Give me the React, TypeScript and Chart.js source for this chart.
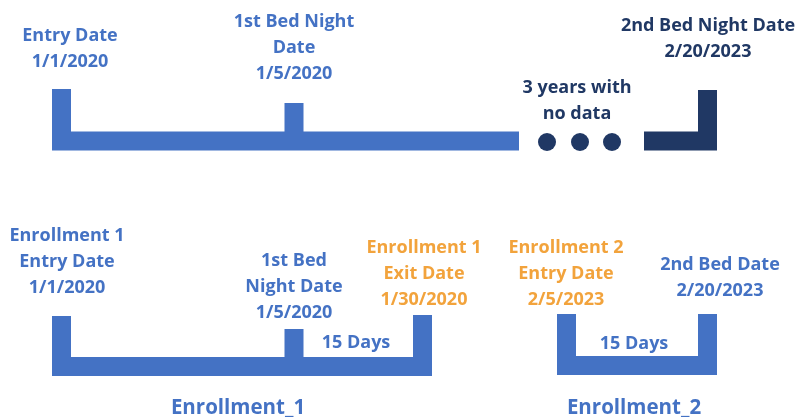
import React, { useEffect, useRef } from "react";
import { Chart, registerables } from "chart.js";

Chart.register(...registerables);

// Timeline geometry in diagram units (x: left→right, y: top→bottom)
const topBracketX = [61.5, 61.5, 519];
const topBracketY = [89, 141, 141];
const topBedTickX = [294, 294];
const topBedTickY = [103, 141];
const topSecondX = [644, 707.5, 707.5];
const topSecondY = [141, 141, 90];
const gapDotsX = [547, 580, 612];
const gapDotsY = [142, 142, 142];

const enr1BracketX = [61.5, 61.5, 422.5, 422.5];
const enr1BracketY = [316, 366.5, 366.5, 315];
const enr1BedTickX = [294, 294];
const enr1BedTickY = [329, 366.5];
const enr2BracketX = [566.5, 566.5, 707.5, 707.5];
const enr2BracketY = [314, 365.5, 365.5, 314];

const BLUE = "#4472C4";
const NAVY = "#203864";
const ORANGE = "#F2A33C";

// Text labels
const labelLines: string[][] = [
  ["Entry Date", "1/1/2020"],
  ["1st Bed Night", "Date", "1/5/2020"],
  ["2nd Bed Night Date", "2/20/2023"],
  ["3 years with", "no data"],
  ["Enrollment 1", "Entry Date", "1/1/2020"],
  ["1st Bed", "Night Date", "1/5/2020"],
  ["Enrollment 1", "Exit Date", "1/30/2020"],
  ["Enrollment 2", "Entry Date", "2/5/2023"],
  ["2nd Bed Date", "2/20/2023"],
  ["15 Days"],
  ["15 Days"],
  ["Enrollment_1"],
  ["Enrollment_2"],
];
const labelX = [70, 294, 708, 577, 67, 294, 424, 566, 720, 356, 634, 238, 634];
const labelY = [35, 21, 25, 87, 235, 260, 247, 247, 264, 342, 343, 407, 407];
const labelColor = [BLUE, BLUE, NAVY, NAVY, BLUE, BLUE, ORANGE, ORANGE, BLUE, BLUE, BLUE, BLUE, BLUE];
const labelSize = [18, 18, 18, 18, 18, 18, 18, 18, 18, 18, 18, 20.5, 20.5];

const toPts = (xs: number[], ys: number[]) => xs.map((x, i) => ({ x, y: ys[i] }));

const seg = (xs: number[], ys: number[], color: string) => ({
  data: toPts(xs, ys),
  showLine: true,
  borderColor: color,
  backgroundColor: color,
  borderWidth: 19,
  borderJoinStyle: "miter" as const,
  borderCapStyle: "butt" as const,
  pointRadius: 0,
  tension: 0,
  fill: false,
  clip: false as any,
});

const textPlugin = {
  id: "diagramText",
  afterDatasetsDraw(chart: any) {
    const { ctx, scales } = chart;
    ctx.save();
    ctx.textAlign = "center";
    ctx.textBaseline = "middle";
    labelLines.forEach((lines, i) => {
      const px = scales.x.getPixelForValue(labelX[i]);
      const py = scales.y.getPixelForValue(labelY[i]);
      ctx.fillStyle = labelColor[i];
      ctx.font = `bold ${labelSize[i]}px "Open Sans", sans-serif`;
      lines.forEach((t, j) => ctx.fillText(t, px, py + 1 + j * 25.8));
    });
    ctx.restore();
  },
};

export default function App() {
  const ref = useRef<HTMLCanvasElement>(null);
  useEffect(() => {
    if (!ref.current) return;
    const chart = new Chart(ref.current, {
      type: "scatter",
      data: {
        datasets: [
          seg(topBracketX, topBracketY, BLUE),
          seg(topBedTickX, topBedTickY, BLUE),
          seg(topSecondX, topSecondY, NAVY),
          {
            data: toPts(gapDotsX, gapDotsY),
            pointRadius: 9,
            pointBackgroundColor: NAVY,
            pointBorderWidth: 0,
            showLine: false,
            clip: false as any,
          },
          seg(enr1BracketX, enr1BracketY, BLUE),
          seg(enr1BedTickX, enr1BedTickY, BLUE),
          seg(enr2BracketX, enr2BracketY, BLUE),
        ] as any,
      },
      options: {
        animation: false,
        responsive: false,
        devicePixelRatio: 1,
        layout: { padding: 0, autoPadding: false },
        events: [],
        plugins: { legend: { display: false }, tooltip: { enabled: false } },
        scales: {
          x: { type: "linear", min: 0, max: 798, display: false },
          y: { type: "linear", min: 0, max: 417, reverse: true, display: false },
        },
      },
      plugins: [textPlugin],
    });
    return () => chart.destroy();
  }, []);
  return (
    <div style={{ position: "fixed", left: 0, top: 0, width: 798, height: 417, background: "#fff" }}>
      <canvas ref={ref} width={798} height={417} />
    </div>
  );
}
